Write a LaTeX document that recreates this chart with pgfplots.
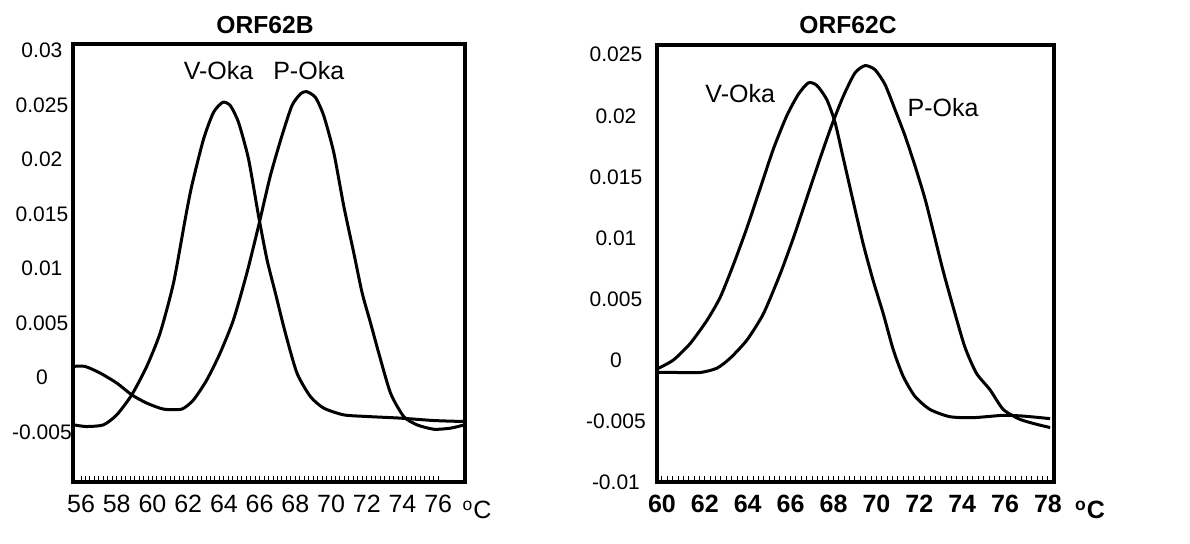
\documentclass[border=0pt]{standalone}
\usepackage{pgfplots}
\pgfplotsset{compat=1.18}
\usepackage{pgfplotstable}
\usepackage{fontspec}
\setmainfont{Liberation Sans}

% melting curves (temperature, -dF/dT)
\pgfplotstableread{
x y
55.6 -0.00436
56.3 -0.00451
57.25 -0.00436
58.0 -0.00344
58.84 -0.0016
59.68 0.00101
60.43 0.00408
61.18 0.00868
61.83 0.0145
62.2 0.01758
62.86 0.02187
63.42 0.02433
63.94 0.02525
64.36 0.02494
64.82 0.0234
65.38 0.02003
65.94 0.01482
66.41 0.01083
66.88 0.00776
67.44 0.00408
68.09 0.0004
68.84 -0.00175
69.59 -0.00282
70.71 -0.00344
72.02 -0.00359
73.89 -0.00374
75.76 -0.00396
77.45 -0.00405
}\bvoka
\pgfplotstableread{
x y
55.6 0.00101
56.22 0.00101
57.07 0.0004
58.0 -0.00052
58.84 -0.0016
59.68 -0.00236
60.62 -0.00291
61.64 -0.00291
62.3 -0.00206
63.05 -0.00021
63.79 0.00224
64.54 0.00531
65.29 0.0096
65.94 0.0139
66.6 0.0185
67.25 0.02218
67.81 0.02494
68.28 0.02601
68.62 0.02623
69.12 0.02571
69.59 0.02402
70.15 0.02065
70.71 0.01574
71.27 0.01144
71.74 0.00776
72.21 0.005
72.67 0.00224
73.33 -0.00144
74.07 -0.00359
74.82 -0.00436
75.76 -0.00476
76.69 -0.00466
77.45 -0.00436
}\bpoka
\pgfplotstableread{
x y
59.84 -0.00068
60.54 0.0
61.32 0.00135
62.1 0.00324
62.72 0.00514
63.34 0.00784
63.96 0.01081
64.58 0.01405
65.2 0.0173
65.82 0.02
66.36 0.02176
66.83 0.0227
67.22 0.02249
67.68 0.02135
68.07 0.01946
68.46 0.01649
68.92 0.01297
69.39 0.00946
69.85 0.00649
70.32 0.00378
70.79 0.00081
71.25 -0.00135
71.79 -0.00297
72.49 -0.00405
73.42 -0.00465
74.51 -0.00473
75.9 -0.00454
76.84 -0.0046
78.1 -0.00481
}\cvoka
\pgfplotstableread{
x y
59.84 -0.00103
60.7 -0.00103
61.78 -0.00103
62.56 -0.00068
63.18 0.00014
63.96 0.00162
64.73 0.00378
65.51 0.00703
66.13 0.01
66.75 0.01324
67.37 0.01649
67.91 0.01919
68.46 0.02162
69.0 0.02351
69.47 0.02411
69.93 0.02378
70.4 0.02257
70.86 0.02054
71.33 0.01838
71.79 0.01595
72.26 0.01324
72.65 0.01054
73.11 0.0073
73.58 0.00432
74.12 0.00108
74.66 -0.00108
75.29 -0.00243
75.91 -0.00405
76.68 -0.00486
77.46 -0.00527
78.1 -0.00554
}\cpoka

\pgfplotsset{
  melt/.style={
    scale only axis,
    axis line style={line width=1.7pt},
    scaled y ticks=false,
    ytick style={draw=none},
    xtick pos=bottom,
    xtick align=inside,
    minor x tick num=7,
    major tick length=3pt, minor tick length=3pt,
    tick style={line width=0.5pt, black},
    xticklabel style={font=\fontsize{12.5}{14}\selectfont, yshift=-3pt},
    yticklabel style={font=\fontsize{10.5}{12}\selectfont, text width=34pt, align=center},
    cycle list={{black},{black}},
    every axis plot/.append style={line width=1.5pt, smooth, tension=0.4, no markers},
  }
}

\begin{document}
\begin{tikzpicture}
\useasboundingbox (0,0) rectangle (595pt,272pt);

\begin{axis}[melt,
  at={(36.5pt,31pt)}, anchor=south west,
  width=196pt, height=219pt,
  xmin=55.55, xmax=77.5,
  ymin=-0.0096, ymax=0.0306,
  xtick={56,58,...,76},
  xticklabels={56,58,60,62,64,66,68,70,72,74,76},
  ytick={-0.005,0,0.005,0.01,0.015,0.02,0.025,0.03},
  yticklabels={-0.005,0,0.005,0.01,0.015,0.02,0.025,0.03},
  yticklabel style={xshift=5pt},
]
\addplot table {\bvoka};
\addplot table {\bpoka};
\node[font=\fontsize{12.5}{14}\selectfont] at (axis cs:63.7,0.0282) {V-Oka};
\node[font=\fontsize{12.5}{14}\selectfont] at (axis cs:68.75,0.0282) {P-Oka};
\end{axis}

\begin{axis}[melt,
  at={(328.5pt,31pt)}, anchor=south west,
  width=198.5pt, height=218.5pt,
  xmin=59.77, xmax=78.28,
  ymin=-0.01, ymax=0.0258,
  xtick={60,62,...,78},
  xticklabels={60,62,64,66,68,70,72,74,76,78},
  xticklabel style={font=\fontsize{12.5}{14}\selectfont\bfseries},
  ytick={-0.01,-0.005,0,0.005,0.01,0.015,0.02,0.025},
  yticklabels={-0.01,-0.005,0,0.005,0.01,0.015,0.02,0.025},
]
\addplot table {\cvoka};
\addplot table {\cpoka};
\node[font=\fontsize{12.5}{14}\selectfont] at (axis cs:63.65,0.0218) {V-Oka};
\node[font=\fontsize{12.5}{14}\selectfont] at (axis cs:73.11,0.0207) {P-Oka};
\end{axis}

\node[font=\fontsize{12.3}{14}\selectfont\bfseries] at (132.5pt,259.5pt) {ORF62B};
\node[font=\fontsize{12.3}{14}\selectfont\bfseries] at (424pt,259.5pt) {ORF62C};
\node[font=\fontsize{12.5}{14}\selectfont] at (238.5pt,17pt) {\textsuperscript{o}C};
\node[font=\fontsize{12.5}{14}\selectfont\bfseries] at (545pt,17pt) {\textsuperscript{o}C};
\end{tikzpicture}
\end{document}
